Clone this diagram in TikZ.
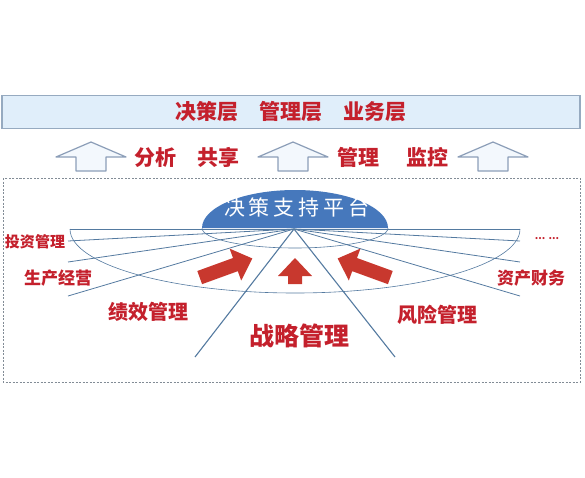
\documentclass[tikz,border=0pt]{standalone}
\usepackage{fontspec}
\setmainfont{Noto Sans CJK SC}
\usepackage{tikz}
\usetikzlibrary{positioning}
\definecolor{labelred}{RGB}{196, 32, 44}
\definecolor{pushred}{RGB}{200, 56, 46}
\definecolor{platformblue}{RGB}{70, 120, 188}
\definecolor{fanline}{RGB}{84, 122, 160}
\definecolor{barfill}{RGB}{224, 238, 250}
\definecolor{barline}{RGB}{150, 170, 192}
\definecolor{hollowline}{RGB}{140, 158, 184}
\definecolor{boxline}{RGB}{130, 140, 150}

\begin{document}
\begin{tikzpicture}[
    x=1pt, y=-1pt,
    bar/.style={rectangle, draw=barline, fill=barfill, line width=1.2pt,
                minimum width=578pt, minimum height=33pt, inner sep=0pt},
    tag/.style={text=labelred, inner sep=0pt,
                font=\bfseries\fontsize{#1}{#1}\selectfont},
    hollow/.style={draw=hollowline, fill=barfill!40, line width=1.2pt, line join=round},
    push/.style={fill=pushred},
    fan/.style={draw=fanline, line width=0.8pt},
    dashbox/.style={draw=boxline, line width=0.8pt, dash pattern=on 2pt off 1.5pt}
]
\useasboundingbox (0,0) rectangle (585,477);

% Layers bar
\node[bar] (layers) at (291,112) {};
\node[tag=21] (layertext) at (layers) {决策层\quad 管理层\quad 业务层};

% Hollow arrows and their texts
\foreach \cx in {91,293,493}
  \draw[hollow] (\cx-15,171) -- (\cx-15,157) -- (\cx-35,157) -- (\cx,142)
        -- (\cx+35,157) -- (\cx+15,157) -- (\cx+15,171) -- cycle;
\node[tag=21] (share) at (187,157) {分析\quad 共享};
\node[tag=21] (monitor) at (393,157) {管理\hspace{1.3em}监控};

% Dashed frame
\draw[dashbox] (3,178) rectangle (580,382);

% Platform
\coordinate (apex) at (294,229);
\draw[fan, line width=0.6pt] (202,228) arc[start angle=180, end angle=360, x radius=93pt, y radius=20pt];
\fill[platformblue] (202,228) arc[start angle=180, end angle=0, x radius=93pt, y radius=38pt] -- cycle;
\node[text=white, inner sep=0pt, font=\fontsize{21}{21}\selectfont] (platform) at (297,207)
  {决\hspace{4pt}策\hspace{4pt}支\hspace{4pt}持\hspace{4pt}平\hspace{4pt}台};

% Fan of lines
\draw[fan, line width=0.6pt] (70,229) arc[start angle=180, end angle=360, x radius=225pt, y radius=64pt];
\draw[fan] (70,229) -- (520,229);
\foreach \ey in {241,262,296} {
  \draw[fan] (apex) -- (68,\ey);
  \draw[fan] (apex) -- (520,\ey);
}
\draw[fan, line width=1.1pt] (apex) -- (195,357);
\draw[fan, line width=1.1pt] (apex) -- (395,357);

% Red arrows towards the platform
\foreach \px/\py/\ang/\len in {226/268/20/56, 295/271/90/26, 364/268/160/56}
  \fill[push, shift={(\px,\py)}, rotate=\ang]
    (-\len/2,-7) -- (\len/2-18,-7) -- (\len/2-18,-17) -- (\len/2,0)
    -- (\len/2-18,17) -- (\len/2-18,7) -- (-\len/2,7) -- cycle;

% Labels
\node[tag=15] (invest) at (35,242) {投资管理};
\node[tag=17] (produce) at (58,278) {生产经营};
\node[tag=20] (perform) at (148,312) {绩效管理};
\node[tag=25] (strategy) at (299,336) {战略管理};
\node[tag=20] (risk) at (437,315) {风险管理};
\node[tag=17] (asset) at (531,278) {资产财务};
\node[tag=10] (more) at (547,239) {... ...};

\end{tikzpicture}
\end{document}
